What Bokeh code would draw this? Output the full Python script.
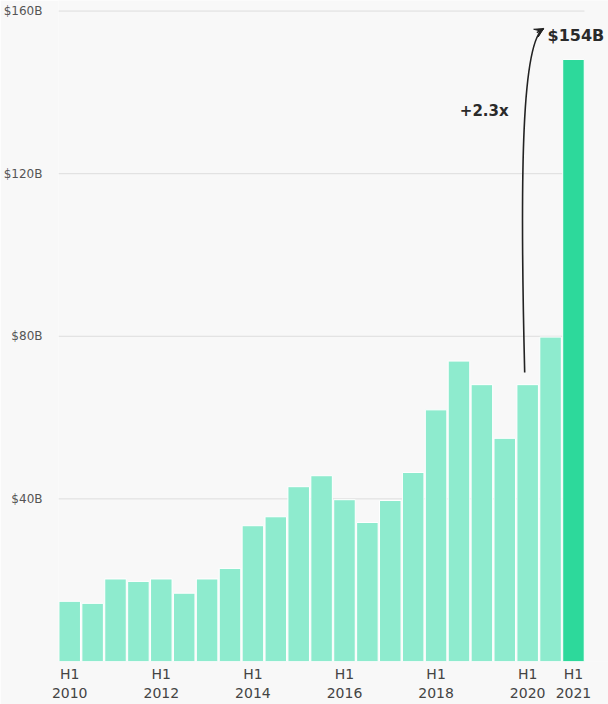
from bokeh.plotting import figure
from bokeh.models import FixedTicker, Label, Arrow, VeeHead, ColumnDataSource
from bokeh.embed import file_html
from bokeh.resources import INLINE

# ---- data ----
periods = ["H1 2010", "H2 2010", "H1 2011", "H2 2011", "H1 2012", "H2 2012",
           "H1 2013", "H2 2013", "H1 2014", "H2 2014", "H1 2015", "H2 2015",
           "H1 2016", "H2 2016", "H1 2017", "H2 2017", "H1 2018", "H2 2018",
           "H1 2019", "H2 2019", "H1 2020", "H2 2020", "H1 2021"]
values = [14.8, 14.3, 20.3, 19.7, 20.3, 16.8, 20.3, 22.9, 33.4, 35.6, 43.0, 45.7,
          39.8, 34.2, 39.6, 46.5, 61.9, 73.9, 68.1, 54.9, 68.1, 79.8, 148.1]
y_ticks = [40, 80, 120, 160]
y_tick_labels = ["$40B", "$80B", "$120B", "$160B"]
x_tick_periods = ["H1 2010", "H1 2012", "H1 2014", "H1 2016", "H1 2018", "H1 2020", "H1 2021"]
headline_label = "$154B"
headline_value = 154
growth_label = "+2.3x"

LIGHT = "#8eebce"
DARK = "#2dd99b"
BG = "#f8f8f8"
FONT = "DejaVu Sans"

xs = list(range(len(periods)))
colors = [LIGHT] * (len(periods) - 1) + [DARK]
src = ColumnDataSource(dict(x=xs, top=values, color=colors, period=periods))

X_START = -0.49
X_END_BARS = len(periods) - 1 + 0.48
p = figure(width=608, height=704, x_range=(X_START, 23.53), y_range=(0, 162.6),
           output_backend="svg", toolbar_location=None,
           min_border_left=57, min_border_right=0, min_border_top=0, min_border_bottom=43)
p.background_fill_color = BG
p.border_fill_color = BG
p.outline_line_color = None

# horizontal gridlines, ending at the last bar
p.segment(x0=[X_START] * len(y_ticks), x1=[X_END_BARS] * len(y_ticks),
          y0=y_ticks, y1=y_ticks, line_color="#dddddd", line_width=1)

p.vbar(x="x", top="top", width=0.94, fill_color="color", line_color="white",
       line_width=1, source=src)

# y axis
p.yaxis.ticker = FixedTicker(ticks=y_ticks)
p.yaxis.major_label_overrides = {t: l for t, l in zip(y_ticks, y_tick_labels)}
p.yaxis.axis_line_color = None
p.yaxis.major_tick_line_color = None
p.yaxis.minor_tick_line_color = None
p.yaxis.major_label_text_color = "#555555"
p.yaxis.major_label_text_font = FONT
p.yaxis.major_label_text_font_size = "12px"
p.yaxis.major_label_standoff = 10
p.ygrid.visible = False
p.xgrid.visible = False

# x axis
x_ticks = [periods.index(s) for s in x_tick_periods]
p.xaxis.ticker = FixedTicker(ticks=x_ticks)
p.xaxis.major_label_overrides = {i: periods[i].replace(" ", "\n") for i in x_ticks}
p.xaxis.axis_line_color = None
p.xaxis.major_tick_line_color = None
p.xaxis.minor_tick_line_color = None
p.xaxis.major_label_text_color = "#444444"
p.xaxis.major_label_text_font = FONT
p.xaxis.major_label_text_font_size = "14px"
p.xaxis.major_label_standoff = -2

# annotation: curved arrow from H1 2020 bar to headline
i20 = periods.index("H1 2020")
x0, y0 = i20 - 0.13, values[i20] + 3
x3, y3 = i20 + 0.70, headline_value + 1.7
p.bezier(x0=[x0], y0=[y0], x1=[x3], y1=[y3],
         cx0=[x0 - 0.22], cy0=[y0 + 50], cx1=[x0 - 0.12], cy1=[y3 - 3],
         line_color="#222222", line_width=1.6)
p.add_layout(Arrow(end=VeeHead(size=9, fill_color="#222222", line_color="#222222", line_width=1),
                   x_start=x3 - 0.3, y_start=y3 - 1.0, x_end=x3, y_end=y3,
                   line_color="#222222", line_width=1.6))

p.add_layout(Label(x=i20 + 0.87, y=headline_value, text=headline_label,
                   text_font=FONT, text_font_style="bold", text_font_size="16px",
                   text_color="#2a2a2a", text_baseline="middle", text_align="left"))
p.add_layout(Label(x=i20 - 0.83, y=135.5, text=growth_label,
                   text_font=FONT, text_font_style="bold", text_font_size="15px",
                   text_color="#2a2a2a", text_baseline="middle", text_align="right"))

open("out.html", "w").write(file_html(p, INLINE))
